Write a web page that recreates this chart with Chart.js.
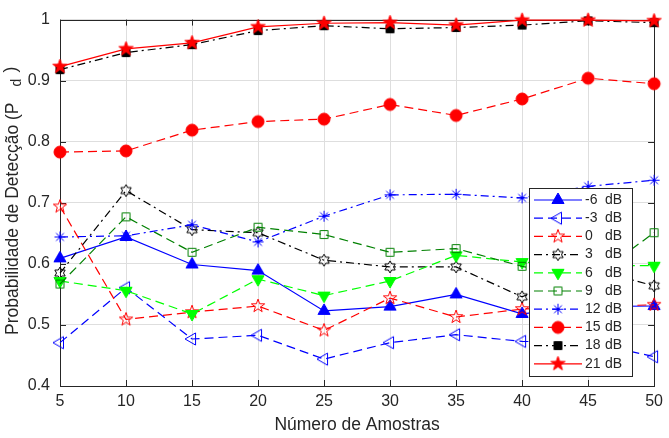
<!DOCTYPE html>
<html>
<head>
<meta charset="utf-8">
<script src="https://cdn.jsdelivr.net/npm/chart.js@4/dist/chart.umd.min.js"></script>
<style>
  body { margin: 0; background: #fff; }
  canvas { display: block; }
</style>
</head>
<body>
<canvas id="grafico" width="669" height="438"></canvas>
<script>
// dati: probabilita' di detezione vs numero di campioni

var amostras = [5, 10, 15, 20, 25, 30, 35, 40, 45, 50];
var snr = ["-6", "-3", "0", "3", "6", "9", "12", "15", "18", "21"];
var yTicks = [0.4, 0.5, 0.6, 0.7, 0.8, 0.9, 1];

var pd_m6 = [0.609, 0.644, 0.599, 0.589, 0.523, 0.530, 0.550, 0.518, 0.530, 0.531];
var pd_m3 = [0.471, 0.561, 0.477, 0.483, 0.444, 0.471, 0.484, 0.473, 0.472, 0.448];
var pd_0  = [0.694, 0.509, 0.521, 0.531, 0.491, 0.544, 0.513, 0.526, 0.530, 0.533];
var pd_3  = [0.585, 0.720, 0.656, 0.651, 0.606, 0.595, 0.595, 0.546, 0.593, 0.564];
var pd_6  = [0.572, 0.556, 0.518, 0.575, 0.548, 0.572, 0.614, 0.603, 0.597, 0.597];
var pd_9  = [0.567, 0.677, 0.619, 0.660, 0.648, 0.619, 0.625, 0.596, 0.572, 0.651];
var pd_12 = [0.644, 0.646, 0.664, 0.636, 0.678, 0.713, 0.714, 0.708, 0.727, 0.737];
var pd_15 = [0.783, 0.785, 0.819, 0.833, 0.837, 0.861, 0.843, 0.870, 0.904, 0.895];
var pd_18 = [0.918, 0.946, 0.959, 0.982, 0.990, 0.985, 0.987, 0.991, 0.998, 0.995];
var pd_21 = [0.923, 0.952, 0.962, 0.988, 0.994, 0.995, 0.991, 0.999, 0.999, 0.998];

var testo = "#262626";
var fonte = "'Liberation Sans', Arial, Helvetica, sans-serif";

// marcatori stile matlab disegnati su canvas
function marcatore(tipo, colore, pieno, r) {
    var s = Math.ceil(r * 2 + 4);
    var c = document.createElement("canvas");
    c.width = s; c.height = s;
    var g = c.getContext("2d");
    var m = s / 2;
    g.strokeStyle = colore;
    g.fillStyle = colore;
    g.lineWidth = 1;
    g.beginPath();
    function poli(angoli, raggi) {
        for (var i = 0; i < angoli.length; i++) {
            var a = angoli[i] * Math.PI / 180;
            var rr = raggi ? raggi[i % raggi.length] : r;
            var px = m + rr * Math.cos(a), py = m + rr * Math.sin(a);
            if (i === 0) g.moveTo(px, py); else g.lineTo(px, py);
        }
        g.closePath();
    }
    var ang = [], k;
    if (tipo === "su") poli([-90, 30, 150]);
    if (tipo === "giu") poli([90, -30, 210]);
    if (tipo === "sx") poli([180, -60, 60]);
    if (tipo === "quadrato") g.rect(m - r * 0.72, m - r * 0.72, r * 1.44, r * 1.44);
    if (tipo === "cerchio") g.arc(m, m, r, 0, Math.PI * 2);
    if (tipo === "penta") {
        for (k = 0; k < 10; k++) ang.push(-90 + k * 36);
        poli(ang, [r, r * 0.4]);
    }
    if (tipo === "esa") {
        for (k = 0; k < 12; k++) ang.push(-90 + k * 30);
        poli(ang, [r, r * 0.577]);
    }
    if (tipo === "aster") {
        for (k = 0; k < 4; k++) {
            var a = k * 45 * Math.PI / 180;
            g.moveTo(m - r * Math.cos(a), m - r * Math.sin(a));
            g.lineTo(m + r * Math.cos(a), m + r * Math.sin(a));
        }
        g.stroke();
        return c;
    }
    if (pieno) g.fill();
    g.stroke();
    return c;
}

var tratteggio = [9, 5];
var puntoLinea = [8, 4, 2, 4];

var serie = [
    { dati: pd_m6, colore: "#0000ff", dash: [],          stile: marcatore("su", "#0000ff", true, 7) },
    { dati: pd_m3, colore: "#0000ff", dash: tratteggio,  stile: marcatore("sx", "#0000ff", false, 7) },
    { dati: pd_0,  colore: "#ff0000", dash: tratteggio,  stile: marcatore("penta", "#ff0000", false, 7) },
    { dati: pd_3,  colore: "#000000", dash: puntoLinea,  stile: marcatore("esa", "#000000", false, 6) },
    { dati: pd_6,  colore: "#00ff00", dash: tratteggio,  stile: marcatore("giu", "#00ff00", true, 7) },
    { dati: pd_9,  colore: "#008000", dash: tratteggio,  stile: marcatore("quadrato", "#008000", false, 5.5) },
    { dati: pd_12, colore: "#0000ff", dash: puntoLinea,  stile: marcatore("aster", "#0000ff", false, 5.5) },
    { dati: pd_15, colore: "#ff0000", dash: tratteggio,  stile: marcatore("cerchio", "#ff0000", true, 6) },
    { dati: pd_18, colore: "#000000", dash: puntoLinea,  stile: marcatore("quadrato", "#000000", true, 5.5) },
    { dati: pd_21, colore: "#ff0000", dash: [],          stile: marcatore("penta", "#ff0000", true, 7.5) }
];

var datasets = serie.map(function (s, i) {
    return {
        label: snr[i] + " dB",
        data: amostras.map(function (x, j) { return { x: x, y: s.dati[j] }; }),
        borderColor: s.colore,
        backgroundColor: s.colore,
        borderWidth: 1.2,
        borderDash: s.dash,
        pointStyle: s.stile,
        pointRadius: 6,
        pointHoverRadius: 6,
        tension: 0,
        clip: false,
        order: 10 - i
    };
});

// cornice e tacche verso l'interno
var cornice = {
    id: "cornice",
    beforeDatasetsDraw: function (chart) {
        var ctx = chart.ctx, a = chart.chartArea;
        var sx = chart.scales.x, sy = chart.scales.y;
        ctx.save();
        ctx.strokeStyle = testo;
        ctx.lineWidth = 1;
        ctx.beginPath();
        sx.ticks.forEach(function (t) {
            var px = Math.round(sx.getPixelForValue(t.value)) + 0.5;
            ctx.moveTo(px, a.bottom); ctx.lineTo(px, a.bottom - 6);
            ctx.moveTo(px, a.top); ctx.lineTo(px, a.top + 6);
        });
        sy.ticks.forEach(function (t) {
            var py = Math.round(sy.getPixelForValue(t.value)) + 0.5;
            ctx.moveTo(a.left, py); ctx.lineTo(a.left + 6, py);
            ctx.moveTo(a.right, py); ctx.lineTo(a.right - 6, py);
        });
        ctx.stroke();
        ctx.strokeRect(Math.round(a.left) + 0.5, Math.round(a.top) + 0.5,
            Math.round(a.right - a.left), Math.round(a.bottom - a.top));
        ctx.restore();
    }
};

// titolo asse y con il pedice sfasato come nell'originale
var titoloY = {
    id: "titoloY",
    afterDraw: function (chart) {
        var ctx = chart.ctx;
        var base = "Probabilidade de Detecção (P";
        ctx.save();
        ctx.translate(13, 335);
        ctx.rotate(-Math.PI / 2);
        ctx.fillStyle = testo;
        ctx.textBaseline = "middle";
        ctx.textAlign = "left";
        ctx.font = "17.5px " + fonte;
        ctx.fillText(base, 0, 0);
        var w = ctx.measureText(base).width;
        ctx.font = "14px " + fonte;
        ctx.fillText("d", w + 16, 4);
        ctx.font = "17.5px " + fonte;
        ctx.fillText(")", w + 30, -2);
        ctx.restore();
    }
};

// legenda dentro l'area del grafico
var legenda = {
    id: "legenda",
    afterDraw: function (chart) {
        var ctx = chart.ctx;
        var bx = 529.5, by = 188.5, bw = 103, bh = 188;
        ctx.save();
        ctx.fillStyle = "#ffffff";
        ctx.fillRect(bx, by, bw, bh);
        ctx.strokeStyle = testo;
        ctx.lineWidth = 1;
        ctx.strokeRect(bx, by, bw, bh);
        chart.data.datasets.forEach(function (d, i) {
            var cy = 200 + i * 18.2;
            ctx.strokeStyle = d.borderColor;
            ctx.lineWidth = d.borderWidth;
            ctx.setLineDash(d.borderDash);
            ctx.beginPath();
            ctx.moveTo(534, cy); ctx.lineTo(582, cy);
            ctx.stroke();
            ctx.setLineDash([]);
            var img = d.pointStyle;
            ctx.drawImage(img, 558 - img.width / 2, cy - img.height / 2);
            ctx.fillStyle = testo;
            ctx.font = "14px " + fonte;
            ctx.textBaseline = "middle";
            ctx.fillText(snr[i], 585, cy);
            ctx.fillText("dB", 605, cy);
        });
        ctx.restore();
    }
};

var ctx = document.getElementById("grafico");
var myChart = new Chart(ctx, {
    type: "line",
    data: { datasets: datasets },
    options: {
        responsive: false,
        animation: false,
        layout: { padding: { top: 14, right: 11, left: 0, bottom: 0 } },
        plugins: {
            legend: { display: false },
            tooltip: { enabled: false }
        },
        scales: {
            x: {
                type: "linear",
                min: 5,
                max: 50,
                afterFit: function (s) { s.height = 52; },
                ticks: {
                    stepSize: 5,
                    color: testo,
                    font: { family: fonte, size: 16 },
                    padding: 6
                },
                grid: { color: "#dedede", drawTicks: false },
                border: { display: false },
                title: {
                    display: true,
                    text: "Número de Amostras",
                    color: testo,
                    font: { family: fonte, size: 17.5 },
                    padding: { top: 0, bottom: 2 }
                }
            },
            y: {
                type: "linear",
                min: yTicks[0],
                max: yTicks[yTicks.length - 1],
                afterFit: function (s) { s.width = 60; },
                afterBuildTicks: function (s) {
                    s.ticks = yTicks.map(function (v) { return { value: v }; });
                },
                ticks: {
                    color: testo,
                    font: { family: fonte, size: 16 },
                    padding: 10,
                    callback: function (v) { return String(Math.round(v * 10) / 10); }
                },
                grid: { color: "#dedede", drawTicks: false },
                border: { display: false }
            }
        }
    },
    plugins: [cornice, titoloY, legenda]
});
</script>
</body>
</html>
